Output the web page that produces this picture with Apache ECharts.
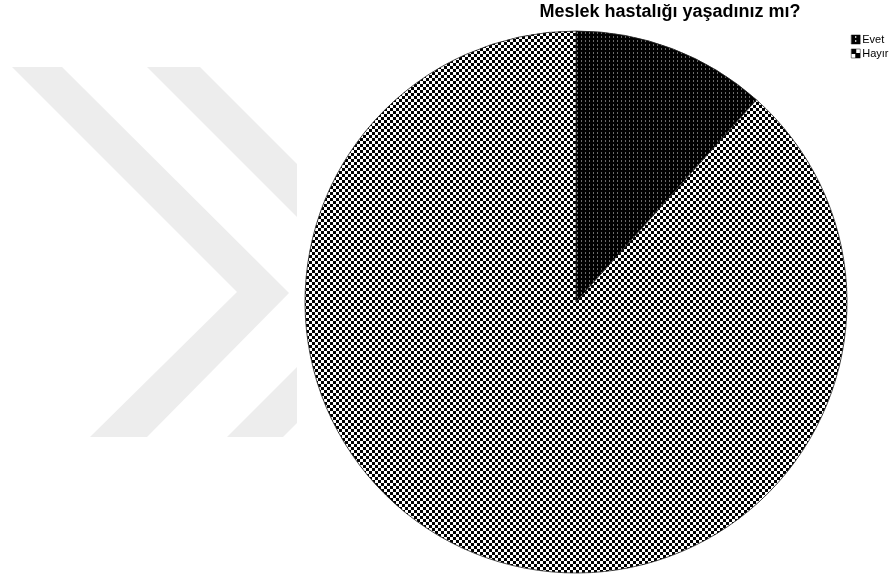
<!DOCTYPE html>
<html>
<head>
<meta charset="utf-8">
<script src="https://cdn.jsdelivr.net/npm/echarts@6/dist/echarts.min.js"></script>
<style>html,body{margin:0;padding:0;background:#fff}#c{width:894px;height:579px}</style>
</head>
<body>
<div id="c"></div>
<script>
var titleText = 'Meslek hastalığı yaşadınız mı?';
var categories = ['Evet', 'Hayır'];
var values = [11.6, 88.4];

function makeTile(w, h, draw) {
  var c = document.createElement('canvas');
  c.width = w; c.height = h;
  var g = c.getContext('2d');
  draw(g);
  return c;
}
// Evet: black with grey dotted vertical lines
var evetTile = makeTile(4, 4, function (g) {
  g.fillStyle = '#000'; g.fillRect(0, 0, 4, 4);
  g.fillStyle = '#6a6a6a'; g.fillRect(1, 0, 1, 2);
});
// Hayır: 3px checkerboard
var hayirTile = makeTile(6, 6, function (g) {
  g.fillStyle = '#fff'; g.fillRect(0, 0, 6, 6);
  g.fillStyle = '#000'; g.fillRect(0, 0, 3, 3); g.fillRect(3, 3, 3, 3);
});
var evetLegendTile = makeTile(9, 9, function (g) {
  g.fillStyle = '#000'; g.fillRect(0, 0, 9, 9);
  g.fillStyle = '#fff'; g.fillRect(4, 1, 1, 2); g.fillRect(4, 5, 1, 2);
});
var hayirLegendTile = makeTile(9, 9, function (g) {
  g.fillStyle = '#fff'; g.fillRect(0, 0, 9, 9);
  g.fillStyle = '#000'; g.fillRect(0, 0, 5, 5); g.fillRect(4, 4, 5, 5);
});
var patterns = [evetTile, hayirTile];
var legendPatterns = [evetLegendTile, hayirLegendTile];

var wm = '#ededed';
var chart = echarts.init(document.getElementById('c'), null, {renderer: 'canvas'});
chart.setOption({
  animation: false,
  backgroundColor: '#fff',
  title: {
    text: titleText, left: 670, top: 3, textAlign: 'center', padding: 0,
    textStyle: {fontFamily: 'Arial, Liberation Sans', fontWeight: 'bold', fontSize: 18, color: '#000'}
  },
  legend: {
    orient: 'vertical', left: 851, top: 34, itemWidth: 9, itemHeight: 9, itemGap: 3, padding: 0,
    icon: 'rect',
    textStyle: {fontFamily: 'Arial, Liberation Sans', fontSize: 11, color: '#000', padding: [0, 0, 0, -3]},
    data: categories.map(function (n, i) {
      return {name: n, itemStyle: {color: {image: legendPatterns[i], repeat: 'no-repeat'}, borderColor: '#000', borderWidth: 0.5}};
    })
  },
  graphic: [
    {type: 'polygon', z: -10, shape: {points: [[12,67],[62,67],[289,293],[147,437],[90,437],[237,292]]}, style: {fill: wm}},
    {type: 'polygon', z: -10, shape: {points: [[147,67],[200,67],[297,164],[297,217]]}, style: {fill: wm}},
    {type: 'polygon', z: -10, shape: {points: [[227,437],[283,437],[297,423],[297,367]]}, style: {fill: wm}}
  ],
  series: [{
    type: 'pie',
    center: [576, 302],
    radius: 271,
    startAngle: 90,
    clockwise: true,
    label: {show: false},
    labelLine: {show: false},
    emphasis: {disabled: true},
    itemStyle: {borderColor: '#222', borderWidth: 0.8},
    data: categories.map(function (n, i) {
      return {name: n, value: values[i], itemStyle: {color: {image: patterns[i], repeat: 'repeat'}}};
    })
  }]
});
</script>
</body>
</html>
